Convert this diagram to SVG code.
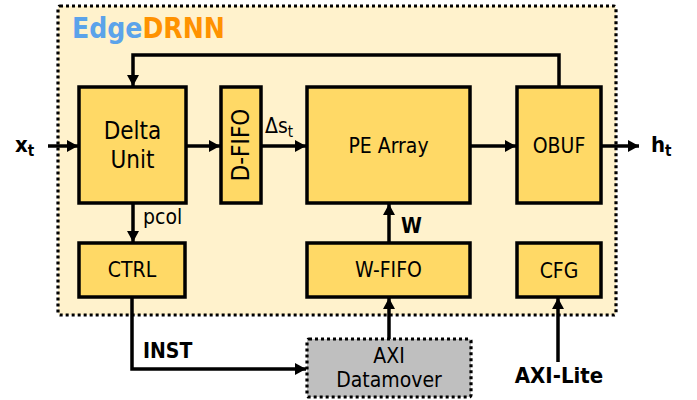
<svg xmlns="http://www.w3.org/2000/svg" width="697" height="400" viewBox="0 0 697 400">
<defs>
<style>
text{font-family:'DejaVu Sans Condensed','DejaVu Sans',sans-serif;fill:#000;}
.lbl{font-size:21px;text-anchor:middle;}
.b{font-weight:bold;}
.blk{fill:#FFD966;stroke:#000;stroke-width:3.5;}
.wire{fill:none;stroke:#000;stroke-width:3.5;}
.dot{stroke:#000;stroke-width:3.2;stroke-dasharray:3 3;}
</style>
<marker id="ah" markerUnits="userSpaceOnUse" markerWidth="12" markerHeight="12" refX="11" refY="6" orient="auto">
<path d="M0,0 L11,6 L0,12 z" fill="#000"/>
</marker>
</defs>
<g id="edgedrnn">
<rect x="58" y="6" width="558" height="309" rx="2" fill="#FFF2CC" class="dot"/>
<text x="72" y="38" font-size="28" class="b"><tspan fill="#5BA3EA">Edge</tspan><tspan fill="#FF9200">DRNN</tspan></text>
</g>
<g id="delta-unit">
<rect x="79" y="87" width="107" height="116" class="blk"/>
<text class="lbl" x="132.5" y="139" style="font-size:24px">Delta</text>
<text class="lbl" x="132.5" y="168" style="font-size:24px">Unit</text>
</g>
<g id="d-fifo">
<rect x="221" y="87" width="40" height="116" class="blk"/>
<text class="lbl" transform="translate(249,145) rotate(-90)" style="font-size:24px">D-FIFO</text>
</g>
<g id="pe-array">
<rect x="307" y="87" width="163" height="116" class="blk"/>
<text class="lbl" x="388.5" y="153">PE Array</text>
</g>
<g id="obuf">
<rect x="517" y="87" width="84" height="116" class="blk"/>
<text class="lbl" x="559" y="153">OBUF</text>
</g>
<g id="ctrl">
<rect x="79" y="243" width="106" height="54" class="blk"/>
<text class="lbl" x="132" y="277">CTRL</text>
</g>
<g id="w-fifo">
<rect x="307" y="243" width="163" height="54" class="blk"/>
<text class="lbl" x="388.5" y="277">W-FIFO</text>
</g>
<g id="cfg">
<rect x="517" y="243" width="84" height="54" class="blk"/>
<text class="lbl" x="559" y="278">CFG</text>
</g>
<g id="axi-datamover">
<rect x="307" y="339" width="164" height="58" rx="2" fill="#BFBFBF" class="dot"/>
<text class="lbl" x="389" y="363">AXI</text>
<text class="lbl" x="389" y="387">Datamover</text>
</g>
<g id="connectors">
<path class="wire" d="M559,87 V55 H133 V86" marker-end="url(#ah)"/>
<path class="wire" d="M48,146 H78" marker-end="url(#ah)"/>
<path class="wire" d="M186,146 H220" marker-end="url(#ah)"/>
<path class="wire" d="M261,146 H306" marker-end="url(#ah)"/>
<path class="wire" d="M470,146 H516" marker-end="url(#ah)"/>
<path class="wire" d="M601,146 H639" marker-end="url(#ah)"/>
<path class="wire" d="M133,203 V242" marker-end="url(#ah)"/>
<path class="wire" d="M132,297 V369 H306" marker-end="url(#ah)"/>
<path class="wire" d="M389,339 V298" marker-end="url(#ah)"/>
<path class="wire" d="M389,243 V204" marker-end="url(#ah)"/>
<path class="wire" d="M558,362 V298" marker-end="url(#ah)"/>
</g>
<g id="labels">
<text x="15" y="152" font-size="22" class="b">x<tspan font-size="15" dy="4">t</tspan></text>
<text x="651" y="152" font-size="22" class="b">h<tspan font-size="15" dy="4">t</tspan></text>
<text x="265" y="133" font-size="21">Δs<tspan font-size="15" dy="4">t</tspan></text>
<text x="143" y="224" font-size="21">pcol</text>
<text x="143" y="358" font-size="21" class="b">INST</text>
<text x="401" y="233" font-size="21" class="b">W</text>
<text x="559" y="383" font-size="22" class="b" text-anchor="middle">AXI-Lite</text>
</g>
</svg>
